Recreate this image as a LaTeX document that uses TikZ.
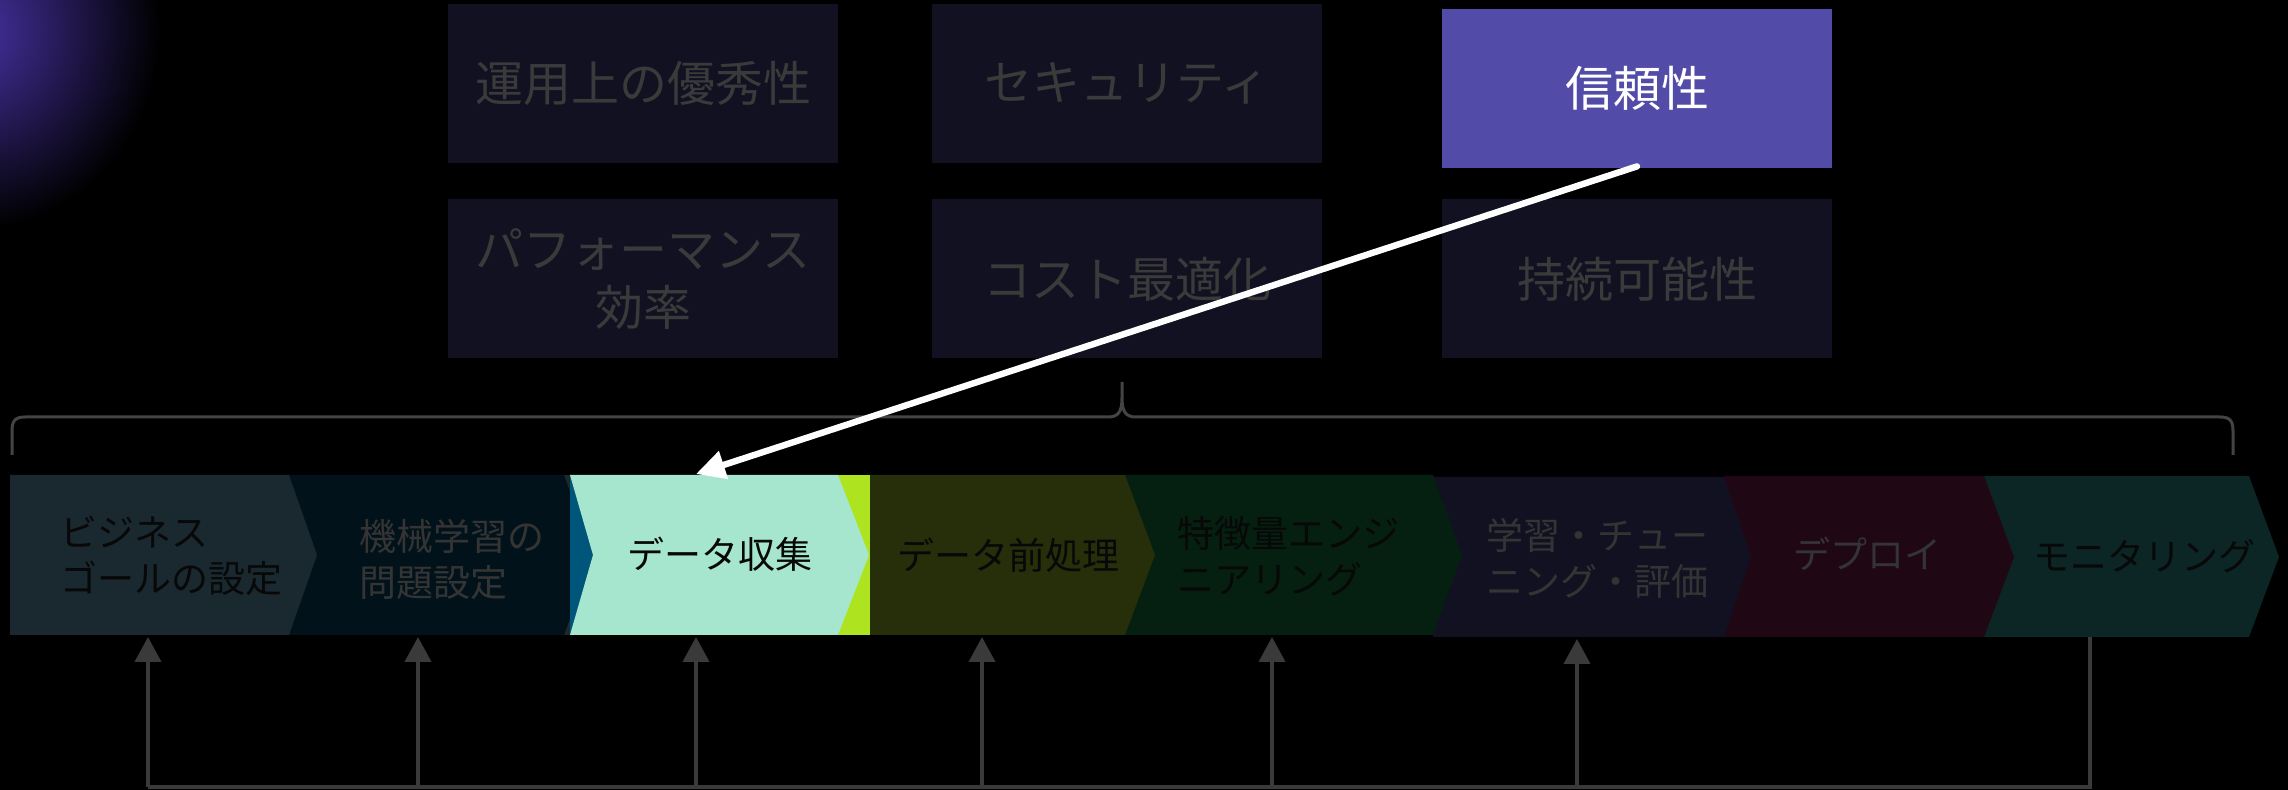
\documentclass[tikz,border=0pt]{standalone}
\usepackage{fontspec}
\setmainfont{Noto Sans CJK JP}
\usetikzlibrary{arrows.meta}

\definecolor{bgbox}{RGB}{17,17,34}
\definecolor{boxtxt}{RGB}{58,58,58}
\definecolor{hlbox}{RGB}{82,76,168}
\definecolor{cA}{RGB}{26,41,48}
\definecolor{cB}{RGB}{2,18,26}
\definecolor{cC}{RGB}{166,230,206}
\definecolor{cD}{RGB}{38,46,10}
\definecolor{cE}{RGB}{5,32,16}
\definecolor{cF}{RGB}{17,17,34}
\definecolor{cG}{RGB}{31,8,20}
\definecolor{cH}{RGB}{12,37,37}
\definecolor{accblue}{RGB}{0,86,122}
\definecolor{acclime}{RGB}{174,227,31}
\definecolor{accgray}{RGB}{30,42,42}
\definecolor{linegray}{RGB}{58,58,58}
\definecolor{bracegray}{RGB}{68,68,68}
\definecolor{darktxt}{RGB}{8,8,8}
\definecolor{midtxt}{RGB}{52,52,52}
\definecolor{glowc}{RGB}{72,50,165}

\tikzset{
  topbox/.style={fill=bgbox, text=boxtxt, minimum width=195pt, minimum height=79.5pt,
    inner sep=0pt, align=center, font=\fontsize{24}{29}\selectfont},
  hlstyle/.style={topbox, fill=hlbox, text=white},
  chtext/.style={font=\fontsize{18.5}{23}\selectfont, inner sep=0pt},
  fbline/.style={draw=linegray, line width=2pt},
  fbarrow/.style={fbline, -{Triangle[length=12.5pt,width=13pt]}},
  bracestyle/.style={draw=bracegray, line width=1.5pt},
  pointer/.style={draw=white, line width=3.2pt, line cap=round, -{Triangle[length=14.5pt,width=14pt]}}
}

\begin{document}
\begin{tikzpicture}[x=0.5pt,y=-0.5pt]
\useasboundingbox (0,0) rectangle (2288,790);
\fill[black] (0,0) rectangle (2288,790);

% glow in the top-left corner
\begin{scope}
  \clip (0,0) rectangle (2288,790);
  \shade[inner color=glowc, outer color=black] (-30,30) ellipse [x radius=190, y radius=200];
\end{scope}

% quality pillars
\node[topbox] (ops) at (643,83.5) {運用上の優秀性};
\node[topbox] (sec) at (1127,83.5) {セキュリティ};
\node[hlstyle] (rel) at (1637,88.5) {信頼性};
\node[topbox] (perf) at (643,279) {パフォーマンス\\効率};
\node[topbox] (cost) at (1127,279) {コスト最適化};
\node[topbox] (sus) at (1637,279) {持続可能性};

% brace
\draw[bracestyle] (12,455) -- (12,431) .. controls (12,421) and (15,417) .. (25,417)
  -- (1108,417) .. controls (1118,417) and (1122,412) .. (1122,398) -- (1122,382)
  -- (1122,398) .. controls (1122,412) and (1126,417) .. (1136,417)
  -- (2220,417) .. controls (2230,417) and (2233,421) .. (2233,431) -- (2233,455);

% chevrons (drawn right to left so each tip lies over the next)
\fill[cH] (1984,476) -- (2249,476) -- (2279,557) -- (2249,637) -- (1984,637) -- cycle;
\fill[cG] (1724,476) -- (1984,476) -- (2014,557) -- (1984,637) -- (1724,637) -- cycle;
\fill[cF] (1433,477) -- (1724,477) -- (1751,557) -- (1724,637) -- (1433,637) -- cycle;
\fill[cE] (1125,475) -- (1433,475) -- (1462,555) -- (1433,635) -- (1125,635) -- cycle;
\fill[cD] (870,475) -- (1125,475) -- (1155,555) -- (1125,635) -- (870,635) -- cycle;
\fill[acclime] (834,475) rectangle (870,635);
\fill[accgray] (560,475) rectangle (571,635);
\fill[cB] (289,475) -- (564,475) -- (593,555) -- (564,635) -- (289,635) -- cycle;
\fill[accblue] (570,475) rectangle (598,635);
\fill[cC] (570,475) -- (838,475) -- (869,555) -- (838,635) -- (570,635) -- (593,555) -- cycle;
\fill[cA] (10,475) -- (289,475) -- (317,555) -- (289,635) -- (10,635) -- cycle;

% chevron labels
\node[chtext, text=darktxt, anchor=west, align=left] (goal) at (60,556) {ビジネス\\ゴールの設定};
\node[chtext, text=midtxt, anchor=west, align=left] (prob) at (359,559) {機械学習の\\問題設定};
\node[chtext, text=darktxt] (coll) at (720,554) {データ収集};
\node[chtext, text=darktxt] (prep) at (1008,555) {データ前処理};
\node[chtext, text=darktxt, anchor=west, align=left] (feat) at (1177,556) {特徴量エンジ\\ニアリング};
\node[chtext, text=midtxt, anchor=west, align=left] (train) at (1486,558) {学習・チュー\\ニング・評価};
\node[chtext, text=midtxt] (depl) at (1867,554) {デプロイ};
\node[chtext, text=darktxt] (mon) at (2144,556) {モニタリング};

% pointer from reliability to data collection
\coordinate (colltop) at (696,474);
\draw[pointer] ([yshift=1pt]rel.south) -- (colltop);

% feedback loop
\coordinate (monbot) at (2090,637);
\coordinate (f1) at (148,787);
\coordinate (f2) at (418,787);
\coordinate (f3) at (696,787);
\coordinate (f4) at (982,787);
\coordinate (f5) at (1272,787);
\coordinate (f6) at (1577,787);
\coordinate (b1) at (148,637);
\coordinate (b2) at (418,637);
\coordinate (b3) at (696,637);
\coordinate (b4) at (982,637);
\coordinate (b5) at (1272,637);
\coordinate (b6) at (1577,639);
\draw[fbline] (monbot) |- (f1);
\draw[fbarrow] (f1) -- (b1);
\draw[fbarrow] (f2) -- (b2);
\draw[fbarrow] (f3) -- (b3);
\draw[fbarrow] (f4) -- (b4);
\draw[fbarrow] (f5) -- (b5);
\draw[fbarrow] (f6) -- (b6);
\end{tikzpicture}
\end{document}
